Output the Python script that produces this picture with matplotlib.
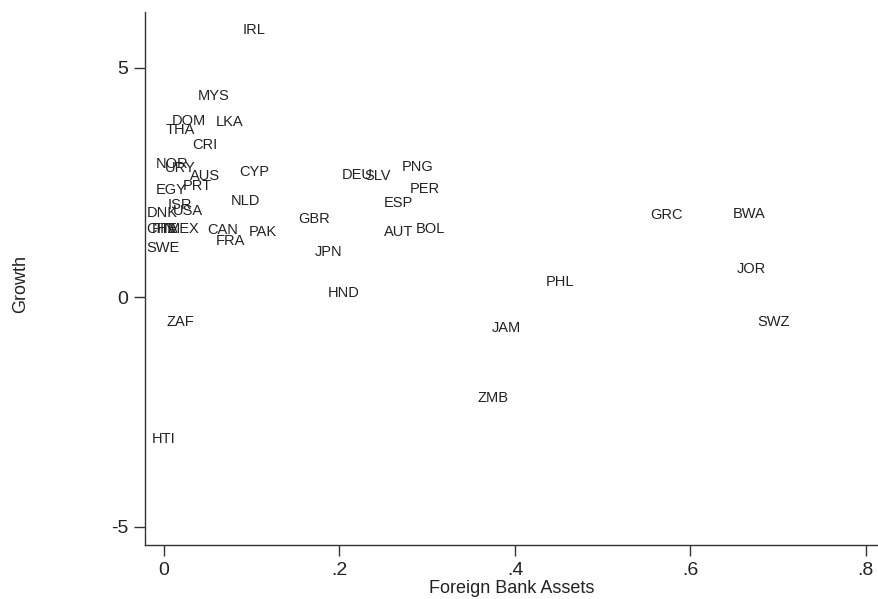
import matplotlib
matplotlib.use("Agg")
import matplotlib.pyplot as plt

countries = ["IRL", "MYS", "DOM", "THA", "LKA", "CRI", "NOR", "URY", "AUS", "CYP",
             "EGY", "PRT", "ISR", "NLD", "DNK", "USA", "CHE", "FIN", "ITA", "MEX",
             "SWE", "CAN", "FRA", "PAK", "GBR", "JPN", "HND", "DEU", "SLV", "PNG",
             "PER", "ESP", "AUT", "BOL", "GRC", "BWA", "JOR", "PHL", "SWZ", "JAM",
             "ZMB", "ZAF", "HTI"]
foreign_assets = [0.103, 0.056, 0.028, 0.018, 0.075, 0.047, 0.009, 0.019, 0.047, 0.103,
                  0.008, 0.038, 0.018, 0.093, -0.002, 0.027, -0.003, 0.000, 0.004, 0.022,
                  -0.001, 0.067, 0.076, 0.113, 0.171, 0.188, 0.205, 0.220, 0.243, 0.289,
                  0.297, 0.267, 0.268, 0.304, 0.573, 0.667, 0.670, 0.451, 0.695, 0.390,
                  0.375, 0.019, -0.001]
growth = [5.84, 4.42, 3.87, 3.68, 3.85, 3.35, 2.93, 2.85, 2.67, 2.76,
          2.37, 2.45, 2.04, 2.12, 1.86, 1.91, 1.51, 1.51, 1.51, 1.51,
          1.10, 1.49, 1.25, 1.45, 1.73, 1.01, 0.13, 2.69, 2.67, 2.87,
          2.39, 2.08, 1.45, 1.51, 1.82, 1.84, 0.64, 0.37, -0.50, -0.65,
          -2.16, -0.52, -3.06]

xticks = [0, 0.2, 0.4, 0.6, 0.8]
xticklabels = ["0", ".2", ".4", ".6", ".8"]
yticks = [-5, 0, 5]
yticklabels = ["-5", "0", "5"]

plt.rcParams['font.family'] = ['Liberation Sans', 'DejaVu Sans']

fig = plt.figure(figsize=(8.79, 5.99), dpi=100)
ax = fig.add_axes([145/879, 1-545/599, 1-145/879, (545-12)/599])
ax.set_xlim(-0.0217, 0.815)
ax.set_ylim(-5.4, 6.21)

for c, x, y in zip(countries, foreign_assets, growth):
    ax.text(x, y, c, ha="center", va="center_baseline", fontsize=10.5, color="#222222")

for s in ["top", "right"]:
    ax.spines[s].set_visible(False)
for s in ["left", "bottom"]:
    ax.spines[s].set_color("#333333")
    ax.spines[s].set_linewidth(1.0)

ax.set_xticks(xticks)
ax.set_xticklabels(xticklabels, fontsize=14)
ax.set_yticks(yticks)
ax.set_yticklabels(yticklabels, fontsize=14)
ax.tick_params(direction="out", length=8, width=1.0, color="#333333", labelcolor="#222222", pad=4)
ax.set_xlabel("Foreign Bank Assets", fontsize=13, color="#222222", labelpad=1)
ax.set_ylabel("Growth", fontsize=13, color="#222222")
ax.yaxis.set_label_coords(-0.158, 0.49)

fig.savefig("out.png", dpi=100)
